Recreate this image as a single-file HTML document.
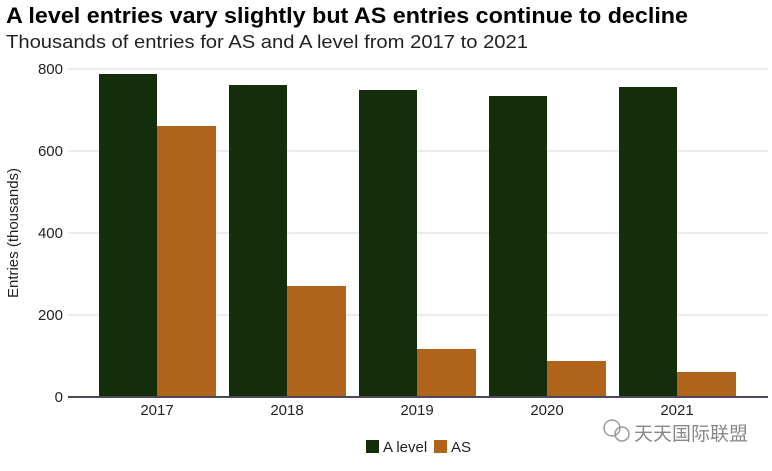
<!DOCTYPE html>
<html><head><meta charset="utf-8"><style>
body{margin:0;background:#fff;width:772px;height:466px;overflow:hidden;font-family:"Liberation Sans","Noto Sans CJK SC",sans-serif;}
</style></head><body>
<svg width="772" height="466" xmlns="http://www.w3.org/2000/svg" font-family="Liberation Sans, Noto Sans CJK SC, sans-serif">
<text x="6" y="23" font-size="22" font-weight="bold" fill="#000" textLength="682" lengthAdjust="spacingAndGlyphs">A level entries vary slightly but AS entries continue to decline</text>
<text x="6" y="48" font-size="18" fill="#222" textLength="522" lengthAdjust="spacingAndGlyphs">Thousands of entries for AS and A level from 2017 to 2021</text>
<g stroke="#d9d9d9" stroke-width="1">
<line x1="68" x2="768" y1="69" y2="69"/><line x1="68" x2="768" y1="151" y2="151"/>
<line x1="68" x2="768" y1="233" y2="233"/><line x1="68" x2="768" y1="315" y2="315"/>
</g>
<g font-size="15" fill="#222" text-anchor="end">
<text x="63" y="74">800</text><text x="63" y="156">600</text><text x="63" y="238">400</text><text x="63" y="320">200</text><text x="63" y="402">0</text>
</g>
<text transform="translate(18,233) rotate(-90)" font-size="15" fill="#222" text-anchor="middle">Entries (thousands)</text>
<g fill="#142d0b">
<rect x="99" y="74" width="58" height="323"/><rect x="229" y="85" width="58" height="312"/>
<rect x="359" y="90" width="58" height="307"/><rect x="489" y="96" width="58" height="301"/>
<rect x="619" y="87" width="58" height="310"/>
</g>
<g fill="#b0631b">
<rect x="157" y="126" width="59" height="271"/><rect x="287" y="286" width="59" height="111"/>
<rect x="417" y="349" width="59" height="48"/><rect x="547" y="361" width="59" height="36"/>
<rect x="677" y="372" width="59" height="25"/>
</g>
<line x1="68" x2="768" y1="397" y2="397" stroke="#4a4a5a" stroke-width="2"/>
<g font-size="15" fill="#222" text-anchor="middle">
<text x="157" y="415">2017</text><text x="287" y="415">2018</text><text x="417" y="415">2019</text><text x="547" y="415">2020</text><text x="677" y="415">2021</text>
</g>
<rect x="366" y="440" width="13" height="13" fill="#142d0b"/>
<text x="383" y="452" font-size="15" fill="#222">A level</text>
<rect x="434" y="440" width="13" height="13" fill="#b0631b"/>
<text x="451" y="452" font-size="15" fill="#222">AS</text>
<circle cx="612" cy="428" r="8" fill="none" stroke="#999" stroke-width="1.5"/>
<circle cx="622" cy="434" r="7" fill="none" stroke="#999" stroke-width="1.5"/>
<text x="634" y="440" font-size="19" fill="#888">天天国际联盟</text>
</svg>
</body></html>
